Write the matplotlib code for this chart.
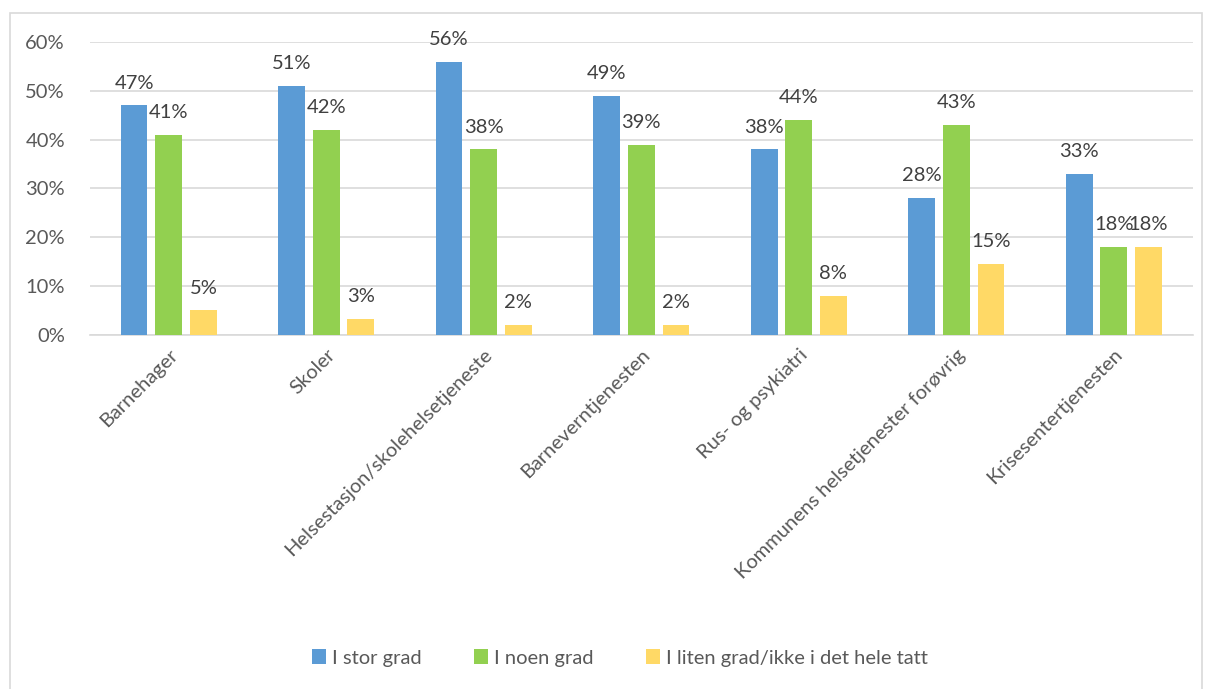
import numpy as np
import matplotlib.pyplot as plt
from matplotlib.patches import Rectangle

categories = ['Barnehager', 'Skoler', 'Helsestasjon/skolehelsetjeneste', 'Barneverntjenesten',
              'Rus- og psykiatri', 'Kommunens helsetjenester forøvrig', 'Krisesentertjenesten']
stor_grad = [47, 51, 56, 49, 38, 28, 33]
noen_grad = [41, 42, 38, 39, 44, 43, 18]
liten_grad = [5, 3.3, 2, 2, 8, 14.6, 18]
series_names = ['I stor grad', 'I noen grad', 'I liten grad/ikke i det hele tatt']
colors = ['#5B9BD5', '#92D050', '#FFD966']

plt.rcParams['font.family'] = ['Lato', 'DejaVu Sans']
textcol = '#595959'

fig = plt.figure(figsize=(12.09, 6.89), dpi=100)
ax = fig.add_axes([0.0744, 0.514, 0.912, 0.425])

x = np.arange(len(categories))
w = 0.17
step = 0.22
for i, (vals, name, c) in enumerate(zip([stor_grad, noen_grad, liten_grad], series_names, colors)):
    pos = x + (i - 1) * step
    bars = ax.bar(pos, vals, width=w, color=c, label=name, zorder=3)
    for b, v in zip(bars, vals):
        ax.annotate('%d%%' % round(v), (b.get_x() + b.get_width() / 2, v),
                    xytext=(0, 10), textcoords='offset points', ha='center', va='bottom',
                    fontsize=14.5, color='#404040')

ax.set_xlim(-0.5, len(categories) - 0.5)
ax.set_ylim(0, 60)
ax.set_yticks(np.arange(0, 61, 10))
ax.set_yticklabels(['%d%%' % t for t in range(0, 61, 10)], fontsize=14.5, color=textcol)
ax.grid(axis='y', color='#D9D9D9', linewidth=1.2, zorder=0)
ax.set_xticks(x)
ax.set_xticklabels(categories, rotation=45, ha='right', rotation_mode='anchor',
                   fontsize=14.5, color=textcol)
ax.tick_params(length=0)
ax.tick_params(axis='y', pad=18)
ax.tick_params(axis='x', pad=8)
for s in ['top', 'right', 'left']:
    ax.spines[s].set_visible(False)
ax.spines['bottom'].set_color('#D9D9D9')
ax.spines['bottom'].set_linewidth(1.2)

leg = fig.legend(loc='center', bbox_to_anchor=(0.513, 0.045), ncol=3, frameon=False,
                 fontsize=14.5, handlelength=0.7, handleheight=0.7, handletextpad=0.3,
                 columnspacing=2.6)
for t in leg.get_texts():
    t.set_color(textcol)

fig.patches.append(Rectangle((10 / 1209, -0.01), 1192 / 1209, (689 - 13) / 689 + 0.01,
                             transform=fig.transFigure, fill=False, edgecolor='#D9D9D9',
                             linewidth=1.2))

fig.savefig('out.png', dpi=100)
